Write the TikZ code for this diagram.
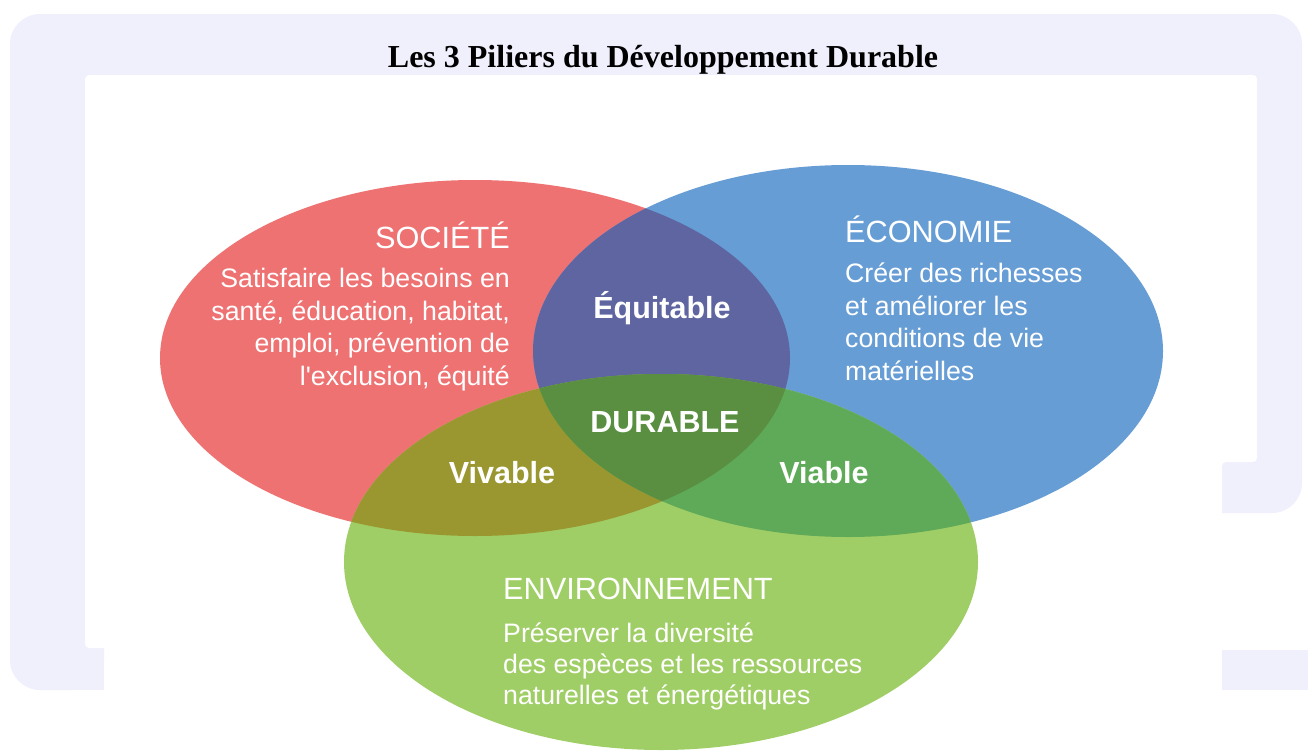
\documentclass[tikz,border=0pt]{standalone}
\usepackage{fontspec}
\setmainfont{Liberation Serif}
\newfontfamily\arial[Ligatures=TeXOff]{Liberation Sans}
\usetikzlibrary{positioning}

\definecolor{lavande}{RGB}{240,239,252}
\definecolor{rouge}{RGB}{239,114,115}
\definecolor{bleu}{RGB}{103,157,213}
\definecolor{vert}{RGB}{160,206,102}
\definecolor{violet}{RGB}{94,101,160}
\definecolor{olive}{RGB}{154,151,48}
\definecolor{vertfonce}{RGB}{95,170,89}
\definecolor{vertcentre}{RGB}{90,143,65}

\newcommand{\ellsoc}{(475,358) ellipse [x radius=315pt, y radius=178pt]}
\newcommand{\elleco}{(848,351) ellipse [x radius=315pt, y radius=186pt]}
\newcommand{\ellenv}{(661,562) ellipse [x radius=317pt, y radius=188pt]}

\begin{document}
\begin{tikzpicture}[x=1pt, y=-1pt,
    titre/.style={font=\fontsize{32}{38}\bfseries\selectfont, inner sep=0pt},
    pilier/.style={font=\arial\fontsize{30.7}{36}\selectfont, text=white, inner sep=0pt},
    texte/.style={font=\arial\fontsize{26.7}{32.5}\selectfont, text=white, inner sep=0pt},
    zone/.style={font=\arial\fontsize{30.5}{36}\bfseries\selectfont, text=white, inner sep=0pt}]
    \useasboundingbox (0,0) rectangle (1308,755);

    % Cadre
    \fill[lavande, rounded corners=30pt] (10,14) rectangle (1302,513);
    \fill[lavande, rounded corners=30pt] (10,300) rectangle (104,690);
    \fill[lavande] (60,648) rectangle (104,690);
    \fill[lavande] (1222,650) rectangle (1308,690);
    \fill[white, rounded corners=4pt] (85,75) -- (1257,75) -- (1257,462) -- (1222,462)
        -- (1222,648) -- (85,648) -- cycle;

    % Titre
    \node[titre, anchor=base] (titre) at (663,67) {Les 3 Piliers du Développement Durable};

    % Cercles
    \fill[rouge] \ellsoc;
    \fill[bleu] \elleco;
    \fill[vert] \ellenv;
    \begin{scope}
        \clip \ellsoc;
        \fill[violet] \elleco;
        \fill[olive] \ellenv;
    \end{scope}
    \begin{scope}
        \clip \elleco;
        \fill[vertfonce] \ellenv;
        \clip \ellsoc;
        \fill[vertcentre] \ellenv;
    \end{scope}

    % Piliers
    \node[pilier, anchor=base east] (soc) at (510,248) {SOCIÉTÉ};
    \node[texte, align=right, anchor=north east] (soctxt) at (510,268)
        {Satisfaire les besoins en\\santé, éducation, habitat,\\emploi, prévention de\\l'exclusion, équité};
    \node[pilier, anchor=base west] (eco) at (845,242) {ÉCONOMIE};
    \node[texte, align=left, anchor=north west] (ecotxt) at (845,263)
        {Créer des richesses\\et améliorer les\\conditions de vie\\matérielles};
    \node[pilier, anchor=base west] (env) at (503,599) {ENVIRONNEMENT};
    \node[texte, align=left, anchor=north west, font=\arial\fontsize{26.7}{31}\selectfont] (envtxt) at (503,623)
        {Préserver la diversité\\des espèces et les ressources\\naturelles et énergétiques};

    % Intersections
    \node[zone, anchor=base] (equi) at (662,318) {Équitable};
    \node[zone, anchor=base] (dur) at (665,432) {DURABLE};
    \node[zone, anchor=base] (viv) at (502,483) {Vivable};
    \node[zone, anchor=base] (via) at (824,483) {Viable};
\end{tikzpicture}
\end{document}
